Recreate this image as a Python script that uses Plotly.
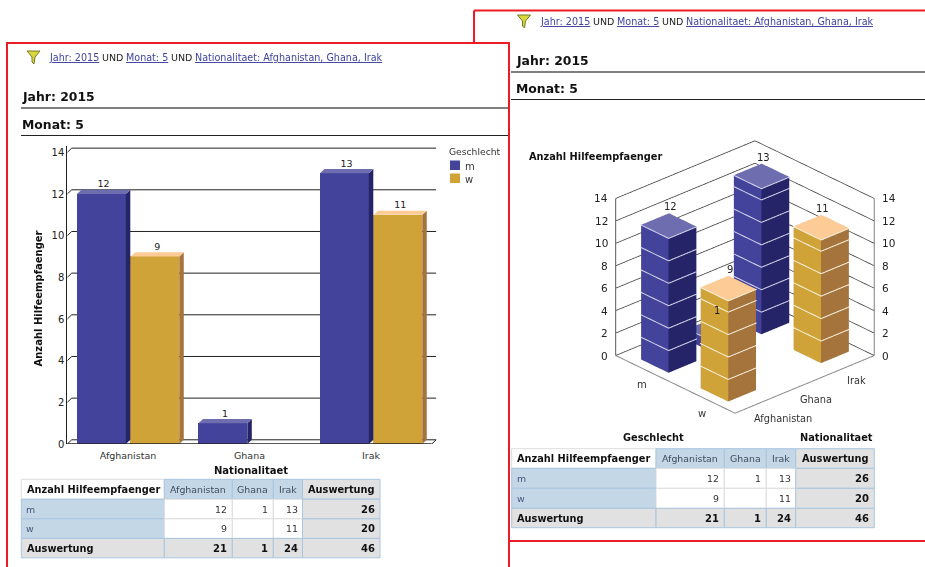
import plotly.graph_objects as go

categories = ["Afghanistan", "Ghana", "Irak"]
genders = ["m", "w"]
values_m = [12, 1, 13]
values_w = [9, None, 11]
row_totals = [26, 20]
col_totals = [21, 1, 24]
grand_total = 46
y_ticks = [0, 2, 4, 6, 8, 10, 12, 14]
measure = "Anzahl Hilfeempfaenger"
total_label = "Auswertung"
cat_title = "Nationalitaet"
gender_title = "Geschlecht"

W, H = 925, 567
X = lambda p: p / W
Y = lambda p: 1 - p / H
REG = "DejaVu Sans"
BOLD = "DejaVu Sans"
C_M = dict(front="#43439b", side="#262468", top="#6d6db0", line="#d5d5ea")
C_W = dict(front="#d0a339", side="#a5733c", top="#fccb96", line="#f7f0dc")

shapes, ann = [], []


def text(x, y, s, size=9.5, color="#333333", bold=False, anchor="left", angle=0):
    ann.append(dict(xref="paper", yref="paper", x=X(x), y=Y(y),
                    text=f"<b>{s}</b>" if bold else s, showarrow=False, textangle=angle,
                    xanchor=anchor, yanchor="middle", borderpad=0, borderwidth=0,
                    font=dict(family=BOLD if bold else REG, size=size, color=color)))


def rect(x0, y0, x1, y1, fill=None, line=None, lw=1):
    shapes.append(dict(type="rect", xref="paper", yref="paper", x0=X(x0), x1=X(x1),
                       y0=Y(y0), y1=Y(y1), fillcolor=fill or "rgba(0,0,0,0)",
                       line=dict(color=line or "rgba(0,0,0,0)", width=lw if line else 0)))


def hline(x0, x1, y, color="#222222", lw=1):
    shapes.append(dict(type="line", xref="paper", yref="paper", x0=X(x0), x1=X(x1),
                       y0=Y(y), y1=Y(y), line=dict(color=color, width=lw)))


def vline(x, y0, y1, color="#222222", lw=1):
    shapes.append(dict(type="line", xref="paper", yref="paper", x0=X(x), x1=X(x),
                       y0=Y(y0), y1=Y(y1), line=dict(color=color, width=lw)))


def header(ox, oy, fdx, title_x, right):
    pts = [(27, 51), (40, 51), (35, 57), (34, 64), (32, 62), (32, 57)]
    path = "M " + " L ".join(f"{X(a + fdx)},{Y(b + oy)}" for a, b in pts) + " Z"
    shapes.append(dict(type="path", xref="paper", yref="paper", path=path,
                       fillcolor="#d8d83a", line=dict(color="#77772a", width=1)))
    link = "#3f43a0"
    ly = 57.5 + oy
    text(49 + fdx, ly, "<u>Jahr: 2015</u>", 9.6, link)
    text(102 + fdx, ly, "UND", 9.5, "#222222")
    text(126 + fdx, ly, "<u>Monat: 5</u>", 9.6, link)
    text(171 + fdx, ly, "UND", 9.5, "#222222")
    nat = f"{cat_title}: " + ", ".join(categories)
    text(195 + fdx, ly, f"<u>{nat}</u>", 9.6, link)
    text(title_x, 97 + oy, "Jahr: 2015", 12.4, "#111111", True)
    hline(ox, right, 108 + oy, "#555555", 1.5)
    text(title_x, 124.5 + oy, "Monat: 5", 12.4, "#111111", True)
    hline(ox, right, 135.5 + oy, "#222222", 1.2)


def table(xs, ys):
    blue, grey, edge, soft = "#c4d7e7", "#e1e1e1", "#a9c6e0", "#dddddd"
    rect(xs[0], ys[0], xs[1], ys[1], "#ffffff", soft)
    for c in range(3):
        rect(xs[c + 1], ys[0], xs[c + 2], ys[1], blue, edge)
    rect(xs[4], ys[0], xs[5], ys[1], grey, edge)
    for r in range(2):
        rect(xs[0], ys[r + 1], xs[1], ys[r + 2], blue, edge)
        for c in range(3):
            rect(xs[c + 1], ys[r + 1], xs[c + 2], ys[r + 2], "#ffffff", soft)
        rect(xs[4], ys[r + 1], xs[5], ys[r + 2], grey, edge)
    for c in range(5):
        rect(xs[c], ys[3], xs[c + 1], ys[4], grey, edge)
    midy = [(ys[i] + ys[i + 1]) / 2 for i in range(4)]
    text(xs[0] + 5.5, midy[0], measure, 9.8, "#111111", True)
    for c, name in enumerate(categories):
        text((xs[c + 1] + xs[c + 2]) / 2, midy[0], name, 9.4, "#3d4d5e", anchor="center")
    text(xs[5] - 5, midy[0], total_label, 9.8, "#111111", True, "right")
    rows = [values_m, values_w]
    for r, g in enumerate(genders):
        text(xs[0] + 5, midy[r + 1], g, 9.4, "#44587e")
        for c in range(3):
            v = rows[r][c]
            if v is not None:
                text(xs[c + 2] - 5, midy[r + 1], str(v), 9.4, "#333333", anchor="right")
        text(xs[5] - 5, midy[r + 1], str(row_totals[r]), 10, "#111111", True, "right")
    text(xs[0] + 5.5, midy[3], total_label, 9.8, "#111111", True)
    for c in range(3):
        text(xs[c + 2] - 5, midy[3], str(col_totals[c]), 10, "#111111", True, "right")
    text(xs[5] - 5, midy[3], str(grand_total), 10, "#111111", True, "right")


fig = go.Figure()

# ---------- left, 2-D chart ----------
UX, UY = 121.5, 20.83
DX, DY = 4.5 / UX, 4.2 / UY
cat_pos = list(range(len(categories)))
series = [(genders[0], values_m, C_M, -0.42, 0.402), (genders[1], values_w, C_W, 0.022, 0.40)]
for name, vals, col, off, wid in series:
    fig.add_trace(go.Bar(x=cat_pos, y=vals, name=name, width=wid, offset=off,
                         marker=dict(color=col["front"], line=dict(width=0)),
                         showlegend=False, hoverinfo="skip"))
for name, vals, col, off, wid in series:
    for i, v in enumerate(vals):
        if v is None:
            continue
        x0, x1 = i + off, i + off + wid
        fig.add_trace(go.Scatter(x=[x1, x1 + DX, x1 + DX, x1, x1], y=[0, DY, v + DY, v, 0],
                                 mode="lines", line=dict(width=0), fill="toself",
                                 fillcolor=col["side"], showlegend=False, hoverinfo="skip"))
        fig.add_trace(go.Scatter(x=[x0, x0 + DX, x1 + DX, x1, x0], y=[v, v + DY, v + DY, v, v],
                                 mode="lines", line=dict(width=0), fill="toself",
                                 fillcolor=col["top"], showlegend=False, hoverinfo="skip"))
        fig.add_trace(go.Scatter(x=[(x0 + x1) / 2 + DX / 2], y=[v + DY], mode="text", text=[str(v)],
                                 textposition="top center", cliponaxis=False,
                                 textfont=dict(family=REG, size=9.5, color="#222222"),
                                 showlegend=False, hoverinfo="skip"))
for t in y_ticks:
    shapes.append(dict(type="line", xref="x", yref="y", layer="below", x0=-0.5, y0=t, x1=-0.5 + DX, y1=t + DY,
                       line=dict(color="#222222", width=1)))
    shapes.append(dict(type="line", xref="x", yref="y", layer="below", x0=-0.5 + DX, y0=t + DY, x1=2.5 + DX, y1=t + DY,
                       line=dict(color="#222222", width=1)))
shapes.append(dict(type="line", xref="x", yref="y", x0=-0.5, y0=0, x1=2.5, y1=0, line=dict(color="#222222", width=1.5)))
shapes.append(dict(type="line", xref="x", yref="y", x0=2.5, y0=0, x1=2.5 + DX, y1=DY, line=dict(color="#222222", width=1)))
text(38, 298.5, measure, 10, "#111111", True, "center", -90)
text(250.5, 470, cat_title, 10, "#111111", True, "center")

# legend
text(449, 151, gender_title, 9.2, "#333333")
for k, (g, col) in enumerate(zip(genders, (C_M, C_W))):
    rect(450, 160.5 + 13 * k, 460, 170 + 13 * k, col["front"])
    text(465, 166 + 13 * k, g, 10, "#333333")

# ---------- right, 3-D chart ----------
BAR_X, BAR_Y = 0.6, 0.46
E = 0.006


def box(xc, yc, v, col):
    x0, x1 = xc - BAR_X / 2, xc + BAR_X / 2
    y0, y1 = yc - BAR_Y / 2, yc + BAR_Y / 2
    vx = [x0, x1, x1, x0, x0, x1, x1, x0]
    vy = [y0, y0, y1, y1, y0, y0, y1, y1]
    vz = [0, 0, 0, 0, v, v, v, v]
    tri = [(4, 5, 6, "top"), (4, 6, 7, "top"),
           (0, 3, 7, "front"), (0, 7, 4, "front"),
           (0, 1, 5, "side"), (0, 5, 4, "side"),
           (1, 2, 6, "side"), (1, 6, 5, "side"),
           (2, 3, 7, "side"), (2, 7, 6, "side"),
           (0, 1, 2, "side"), (0, 2, 3, "side")]
    fig.add_trace(go.Mesh3d(x=vx, y=vy, z=vz,
                            i=[t[0] for t in tri], j=[t[1] for t in tri], k=[t[2] for t in tri],
                            facecolor=[col[t[3]] for t in tri], flatshading=True,
                            lighting=dict(ambient=1, diffuse=0, specular=0, fresnel=0, roughness=1),
                            hoverinfo="skip", showscale=False, scene="scene"))
    lx, ly, lz = [], [], []
    for z in [t for t in y_ticks if 0 < t < v] + [v]:
        lx += [x0 - E, x0 - E, x1 + E, None]
        ly += [y1 + E, y0 - E, y0 - E, None]
        lz += [z, z, z, None]
    fig.add_trace(go.Scatter3d(x=lx, y=ly, z=lz, mode="lines", line=dict(color=col["line"], width=2),
                               hoverinfo="skip", showlegend=False, scene="scene"))


scene_ann = []


def sa(x, y, z, s, xs=0, ys=0, anchor="center", size=9.5, color="#333333"):
    scene_ann.append(dict(x=x, y=y, z=z, text=s, showarrow=False, xanchor=anchor, yanchor="middle",
                          xshift=xs, yshift=ys, font=dict(family=REG, size=size, color=color)))


ypos = {genders[0]: 1.5, genders[1]: 0.5}
for g, vals, col in ((genders[0], values_m, C_M), (genders[1], values_w, C_W)):
    for i, v in enumerate(vals):
        if v is None:
            continue
        box(i + 0.5, ypos[g], v, col)
        sa(i + 0.5, ypos[g], v, str(v), 2, 19, size=10, color="#222222")

# walls
gx, gy, gz = [], [], []
for t in y_ticks:
    gx += [0, 3, 3, None]
    gy += [2, 2, 0, None]
    gz += [t, t, t, None]
fig.add_trace(go.Scatter3d(x=gx, y=gy, z=gz, mode="lines", line=dict(color="#3a3a3a", width=1.5),
                           hoverinfo="skip", showlegend=False, scene="scene"))
fig.add_trace(go.Scatter3d(x=[0, 0], y=[2, 2], z=[0, 14], mode="lines", line=dict(color="#222222", width=1.5),
                           hoverinfo="skip", showlegend=False, scene="scene"))
fig.add_trace(go.Scatter3d(x=[3, 3], y=[0, 0], z=[0, 14], mode="lines", line=dict(color="#808080", width=2),
                           hoverinfo="skip", showlegend=False, scene="scene"))
fig.add_trace(go.Scatter3d(x=[0, 0, 3], y=[2, 0, 0], z=[0, 0, 0], mode="lines", line=dict(color="#8a8a8a", width=2),
                           hoverinfo="skip", showlegend=False, scene="scene"))
for t in y_ticks:
    sa(0, 2, t, str(t), -5, 0, "right", 10.5, "#222222")
    sa(3, 0, t, str(t), 6, 0, "left", 10.5, "#222222")
for i, c in enumerate(categories):
    sa(i + 0.5, 0, 0, c, -6, -15, "left", 9.8)
for g in genders:
    sa(0, ypos[g], 0, g, -3, -15, size=10)

text(529, 157, measure, 9.8, "#111111", True)
text(653, 437, gender_title, 9.8, "#111111", True, "center")
text(836, 437, cat_title, 9.8, "#111111", True, "center")

# ---------- page furniture ----------
RED = "#ec1c24"
header(511, -36, 490.5, 515.5, 925)
header(21, 0, 0, 21.5, 509)
table([21.3, 164.3, 232.3, 273.3, 302.5, 380], [479.3, 499.2, 518.8, 538.4, 557.8])
table([511.7, 656, 724.3, 766.3, 795.7, 874.3], [448.7, 468.3, 488.3, 508.3, 527.7])
shapes.append(dict(type="line", xref="paper", yref="paper", x0=X(474), x1=X(925), y0=Y(10.5), y1=Y(10.5), line=dict(color=RED, width=2)))
vline(474, 10.5, 42, RED, 2)
hline(510, 925, 541, RED, 2)
rect(7, 43, 509, 575, None, RED, 2)

R = 1.708
SCALE = 1.171
fig.update_layout(
    width=W, height=H, margin=dict(l=0, r=0, t=0, b=0), autosize=False,
    paper_bgcolor="white", plot_bgcolor="rgba(0,0,0,0)", showlegend=False,
    bargap=0, shapes=shapes, annotations=ann,
    xaxis=dict(domain=[X(67.25), X(436.6)], range=[-0.5, 2.54], tickmode="array", tickvals=cat_pos,
               ticktext=categories, showgrid=False, showline=False, zeroline=False,
               ticks="outside", ticklen=3, tickcolor="rgba(0,0,0,0)",
               tickfont=dict(family=REG, size=9.5, color="#333333"), automargin=False),
    yaxis=dict(domain=[Y(444), Y(146.1)], range=[0, 14.3], tickvals=y_ticks, showgrid=False, zeroline=False,
               showline=True, linecolor="#222222", linewidth=1, ticks="",
               tickfont=dict(family=REG, size=10, color="#222222"), automargin=False),
    scene=dict(
        domain=dict(x=[X(594.5), X(894.5)], y=[Y(427), Y(127)]),
        xaxis=dict(visible=False, range=[0, 3]),
        yaxis=dict(visible=False, range=[0, 2]),
        zaxis=dict(visible=False, range=[0, 14]),
        aspectmode="manual", aspectratio=dict(x=1.08 * SCALE, y=1 * SCALE, z=1 * SCALE),
        camera=dict(eye=dict(x=-0.607 * R, y=-0.656 * R, z=0.4475 * R), up=dict(x=0, y=0, z=1),
                    center=dict(x=0, y=0, z=0), projection=dict(type="orthographic")),
        bgcolor="rgba(0,0,0,0)", annotations=scene_ann),
)
fig.write_html("out.html", config=dict(displayModeBar=False),
               post_script="document.body.style.margin='0';document.body.style.overflow='hidden';")
